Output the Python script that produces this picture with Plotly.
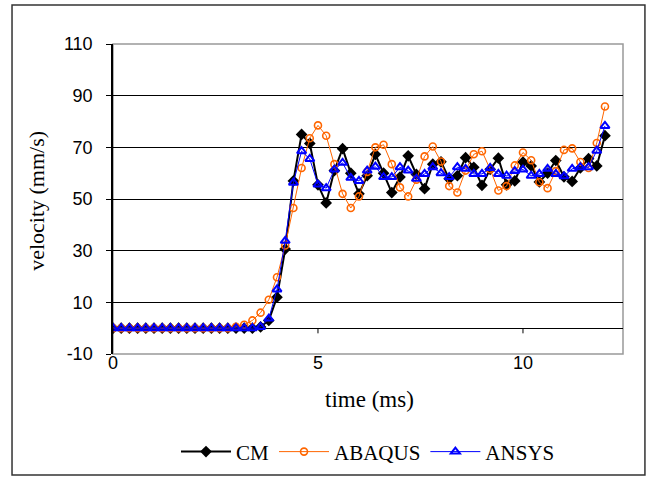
import plotly.graph_objects as go

# Sampling instants (ms)
time_ms = [0.0, 0.2, 0.4, 0.6, 0.8, 1.0, 1.2, 1.4, 1.6, 1.8,
           2.0, 2.2, 2.4, 2.6, 2.8, 3.0, 3.2, 3.4, 3.6, 3.8,
           4.0, 4.2, 4.4, 4.6, 4.8, 5.0, 5.2, 5.4, 5.6, 5.8,
           6.0, 6.2, 6.4, 6.6, 6.8, 7.0, 7.2, 7.4, 7.6, 7.8,
           8.0, 8.2, 8.4, 8.6, 8.8, 9.0, 9.2, 9.4, 9.6, 9.8,
           10.0, 10.2, 10.4, 10.6, 10.8, 11.0, 11.2, 11.4, 11.6, 11.8,
           12.0]

# Velocity (mm/s) per method
cm_vel = [0, 0, 0, 0, 0, 0, 0, 0, 0, 0, 0, 0, 0, 0, 0, 0, 0, 0,
          0.5, 3, 12, 30.6, 57, 75, 71.5, 55.5, 48.5, 61,
          69.5, 60, 52, 59, 67.3, 60, 52.5, 58.5, 66.7, 59.5,
          54, 63.5, 64.4, 57.8, 59, 66, 62.3, 55.3, 61.5, 65.8,
          55.5, 57, 64.3, 62.8, 56.6, 60, 64.9, 58.6, 56.8, 62,
          65.6, 62.8, 74.5]

abaqus_vel = [0, 0, 0, 0, 0, 0, 0, 0, 0, 0, 0, 0, 0, 0, 0,
              0.5, 1.3, 3, 6, 11, 19.7, 32, 46.5, 62, 73.5,
              78.5, 74.5, 63.5, 52, 46.5, 51, 60.5, 70, 71, 63.5,
              54.5, 51, 57.5, 66.5, 70.3, 64.5, 55, 52.5, 61, 67.3,
              68.5, 61.5, 53.3, 55, 63, 68, 65, 56.5, 54.2, 60.8,
              69, 69.6, 64.3, 62, 71.7, 85.8]

ansys_vel = [0, 0, 0, 0, 0, 0, 0, 0, 0, 0, 0, 0, 0, 0, 0, 0, 0, 0,
             0.5, 3.7, 15, 33.8, 56.3, 68.5, 65.5, 55.6, 54.2, 61.4,
             64, 58.2, 57, 61, 62.5, 58.5, 58.5, 62.3, 61, 57.8,
             59.7, 62.3, 60, 58.5, 62.3, 61.7, 59.7, 59.7, 62, 59.7,
             59, 60.8, 61.4, 59, 59.7, 61.7, 59.7, 58.8, 61.7, 62.3,
             62.3, 68.7, 78.3]

y_ticks = [-10, 10, 30, 50, 70, 90, 110]
y_tick_text = ["-10", "10", "30", "50", "70", "90", "110"]
x_ticks = [0, 5, 10]

SERIF = "Liberation Serif, Times New Roman, serif"
SANS = "Liberation Sans, Arial, sans-serif"

fig = go.Figure()

fig.add_trace(go.Scatter(
    x=time_ms, y=cm_vel, name="CM", mode="lines+markers",
    line=dict(color="black", width=2),
    marker=dict(symbol="diamond", size=9, color="black"),
))
fig.add_trace(go.Scatter(
    x=time_ms, y=abaqus_vel, name="ABAQUS", mode="lines+markers",
    line=dict(color="#FF6600", width=1),
    marker=dict(symbol="circle-open", size=7, color="#FF6600",
                line=dict(width=1.6, color="#FF6600")),
))
fig.add_trace(go.Scatter(
    x=time_ms, y=ansys_vel, name="ANSYS", mode="lines+markers",
    line=dict(color="#0000FF", width=1),
    marker=dict(symbol="triangle-up-open", size=8, color="#0000FF",
                line=dict(width=2, color="#0000FF")),
))

shapes = []
# plot area border
shapes.append(dict(type="rect", xref="paper", yref="paper", x0=0, x1=1, y0=0, y1=1,
                   line=dict(color="#999999", width=1.5), layer="below"))
# outer chart frame
shapes.append(dict(type="rect", xref="paper", yref="paper",
                   x0=-0.198, x1=1.043, y0=-0.39, y1=1.126,
                   line=dict(color="#333333", width=1.5)))
# horizontal axis crossing at zero, with its tick marks
for tv in x_ticks:
    shapes.append(dict(type="line", xref="x", yref="y", x0=tv, x1=tv, y0=0, y1=-2,
                       line=dict(color="black", width=1)))

fig.update_layout(
    width=647, height=477,
    margin=dict(l=113, r=24, t=44, b=123, autoexpand=False),
    paper_bgcolor="white", plot_bgcolor="white",
    showlegend=True,
    legend=dict(orientation="h", x=0.5, xanchor="center", y=-0.316, yanchor="middle",
                font=dict(family=SERIF, size=21, color="black"),
                itemwidth=50, tracegroupgap=0),
    xaxis=dict(range=[0, 12.44], tickvals=x_ticks, ticks="", showgrid=False,
               zeroline=False, showline=False, ticklabelstandoff=-4,
               tickfont=dict(family=SANS, size=18, color="black")),
    yaxis=dict(range=[-10, 110], tickvals=y_ticks, ticktext=y_tick_text,
               ticks="outside", ticklen=5,
               tickcolor="black", showgrid=True, gridcolor="black", gridwidth=1,
               zeroline=True, zerolinecolor="black", zerolinewidth=1,
               showline=True, linecolor="black", linewidth=1.5,
               ticklabelstandoff=10,
               tickfont=dict(family=SANS, size=18, color="black")),
    shapes=shapes,
    annotations=[
        dict(text="time (ms)", xref="paper", yref="paper", x=0.502, y=-0.148,
             xanchor="center", yanchor="middle", showarrow=False,
             font=dict(family=SERIF, size=23, color="black")),
        dict(text="velocity (mm/s)", xref="paper", yref="paper", x=-0.149, y=0.494,
             xanchor="center", yanchor="middle", textangle=-90, showarrow=False,
             font=dict(family=SERIF, size=22, color="black")),
    ],
)

fig.write_html("out.html")
